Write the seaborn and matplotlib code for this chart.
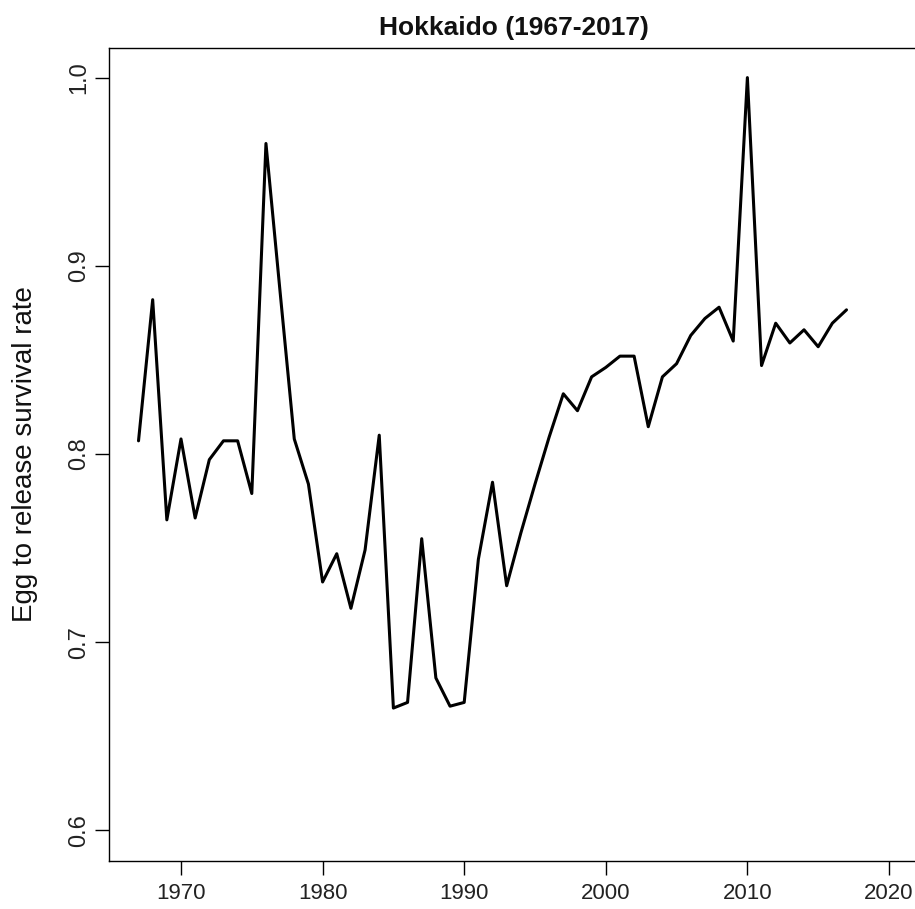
import matplotlib
matplotlib.use("Agg")
import matplotlib.pyplot as plt
import seaborn as sns
import pandas as pd

years = list(range(1967, 2018))
survival = [0.807, 0.882, 0.765, 0.808, 0.766, 0.797, 0.807, 0.807, 0.779, 0.965,
            0.886, 0.808, 0.784, 0.732, 0.747, 0.718, 0.749, 0.810, 0.665, 0.668,
            0.755, 0.681, 0.666, 0.668, 0.744, 0.785, 0.730, 0.758, 0.784, 0.809,
            0.832, 0.823, 0.841, 0.846, 0.852, 0.852, 0.8145, 0.841, 0.848, 0.863,
            0.872, 0.878, 0.860, 1.000, 0.847, 0.8695, 0.859, 0.866, 0.857, 0.8695,
            0.8766]
x_ticks = [1970, 1980, 1990, 2000, 2010, 2020]
y_ticks = [0.6, 0.7, 0.8, 0.9, 1.0]
title = "Hokkaido (1967-2017)"
ylabel = "Egg to release survival rate"

df = pd.DataFrame({"year": years, "rate": survival})

sns.set_style("white")
plt.rcParams["font.family"] = ["Liberation Sans", "DejaVu Sans"]

W, H = 915, 909
fig = plt.figure(figsize=(W / 100, H / 100), dpi=100)
left, right, top, bottom = 108.5, 919, 47.5, 860.5
ax = fig.add_axes([left / W, (H - bottom) / H, (right - left) / W, (bottom - top) / H])

sns.lineplot(data=df, x="year", y="rate", ax=ax, color="black", linewidth=2.2)

ax.set_xlim(1967 - 0.04 * 53, 2020 + 0.04 * 53)
ax.set_ylim(0.6 - 0.016, 1.0 + 0.016)
ax.set_xticks(x_ticks)
ax.set_xticklabels([str(t) for t in x_ticks], fontsize=16)
ax.set_yticks(y_ticks)
ax.set_yticklabels([f"{t:.1f}" for t in y_ticks], rotation=90, va="center", fontsize=17)

for s in ax.spines.values():
    s.set_visible(True)
    s.set_color("black")
    s.set_linewidth(1.0)

ax.tick_params(axis="both", direction="out", length=10, width=1.0, color="black",
               labelcolor="#222222", bottom=True, left=True)
ax.tick_params(axis="x", pad=6)
ax.tick_params(axis="y", pad=3)

ax.set_xlabel("")
ax.set_ylabel(ylabel, fontsize=20, color="#111111")
ax.yaxis.set_label_coords((38 - left) / (right - left), 0.5)
ax.set_title(title, fontsize=19, fontweight="bold", pad=9, color="#111111")

fig.savefig("out.png", dpi=100)
